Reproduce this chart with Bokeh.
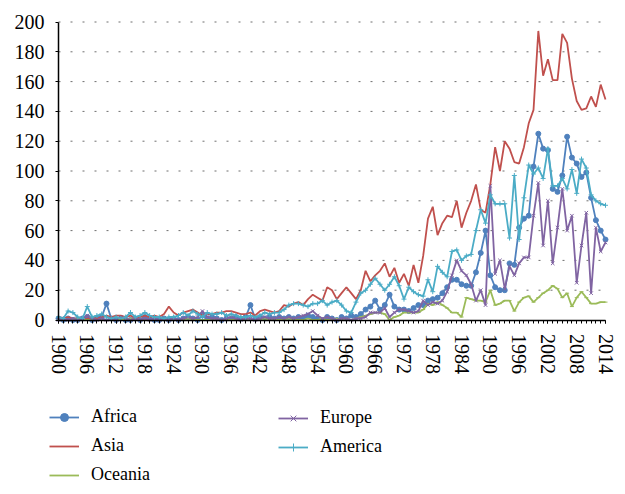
from bokeh.plotting import figure
from bokeh.models import ColumnDataSource, Range1d, FixedTicker, Legend, LegendItem
from bokeh.embed import file_html
from bokeh.resources import INLINE

years = list(range(1900, 2015))

africa = [1, 0, 1, 0, 0, 1, 2, 0, 1, 2,
          11, 1, 0, 1, 0, 0, 1, 0, 2, 1,
          0, 0, 1, 0, 1, 0, 1, 2, 1, 0,
          3, 1, 2, 1, 0, 1, 1, 2, 1, 2,
          10, 1, 2, 1, 2, 1, 2, 1, 2, 1,
          2, 1, 3, 2, 1, 0, 2, 1, 0, 2,
          1, 3, 2, 4, 7, 9, 13, 7, 10, 17,
          9, 7, 7, 6, 8, 10, 10, 13, 14, 15,
          18, 22, 27, 27, 24, 23, 23, 32, 45, 60,
          30, 22, 20, 20, 38, 37, 62, 68, 70, 103,
          125, 115, 114, 88, 86, 97, 123, 109, 105, 96,
          99, 82, 67, 60, 54]

asia = [2, 1, 2, 1, 1, 0, 1, 2, 1, 2,
        3, 2, 3, 3, 2, 3, 1, 2, 3, 2,
        3, 2, 4, 9, 5, 3, 5, 6, 7, 5,
        3, 4, 4, 5, 5, 6, 6, 5, 4, 4,
        5, 3, 6, 7, 6, 5, 6, 10, 9, 11,
        12, 10, 14, 17, 15, 13, 22, 20, 14, 18,
        22, 18, 14, 20, 33, 26, 30, 33, 38, 29,
        35, 25, 31, 23, 37, 25, 43, 68, 76, 57,
        65, 70, 69, 80, 62, 72, 80, 91, 74, 72,
        91, 116, 100, 120, 115, 106, 105, 116, 132, 141,
        194, 164, 175, 161, 161, 192, 186, 162, 147, 141,
        142, 150, 143, 158, 148]

oceania = [0, 0, 0, 0, 1, 0, 0, 0, 0, 0,
           0, 0, 0, 0, 0, 1, 0, 0, 0, 0,
           0, 0, 0, 0, 0, 0, 0, 1, 0, 0,
           0, 0, 0, 1, 0, 0, 0, 0, 0, 1,
           0, 0, 0, 1, 0, 0, 0, 0, 1, 0,
           0, 0, 1, 0, 0, 1, 0, 0, 1, 0,
           1, 0, 1, 2, 3, 4, 5, 5, 4, 0,
           2, 3, 5, 5, 5, 5, 7, 11, 10, 12,
           10, 8, 5, 5, 2, 15, 14, 13, 13, 12,
           20, 10, 11, 13, 13, 6, 12, 15, 16, 12,
           15, 18, 20, 23, 21, 15, 18, 9, 15, 19,
           15, 11, 11, 12, 12]

europe = [0, 1, 0, 1, 0, 1, 3, 1, 0, 1,
          0, 1, 0, 2, 1, 0, 1, 0, 1, 0,
          1, 0, 1, 0, 1, 0, 1, 2, 1, 2,
          6, 2, 1, 1, 0, 1, 2, 1, 0, 1,
          1, 0, 1, 2, 1, 1, 2, 1, 2, 1,
          2, 3, 4, 6, 3, 1, 2, 1, 0, 1,
          1, 0, 1, 1, 2, 5, 5, 5, 8, 2,
          5, 7, 7, 6, 5, 6, 13, 10, 12, 11,
          13, 19, 30, 40, 33, 30, 24, 13, 20, 10,
          90, 31, 40, 21, 36, 30, 38, 42, 42, 70,
          92, 50, 80, 38, 62, 88, 60, 70, 25, 50,
          72, 18, 62, 46, 52]

america = [2, 1, 6, 5, 2, 1, 9, 2, 3, 4,
           2, 1, 2, 1, 2, 5, 2, 3, 5, 3,
           2, 2, 1, 2, 2, 3, 5, 3, 6, 4,
           2, 5, 4, 4, 5, 3, 4, 3, 2, 2,
           3, 2, 3, 5, 4, 5, 5, 7, 10, 11,
           11, 10, 9, 11, 11, 13, 10, 12, 13, 10,
           6, 5, 12, 18, 20, 24, 28, 24, 20, 24,
           29, 23, 14, 22, 19, 17, 16, 27, 19, 36,
           32, 29, 46, 47, 40, 43, 44, 60, 74, 65,
           84, 78, 78, 78, 55, 97, 54, 82, 104, 98,
           102, 95, 115, 90, 90, 95, 88, 101, 85, 108,
           102, 84, 80, 78, 77]

x_tick_labels = [1900, 1906, 1912, 1918, 1924, 1930, 1936, 1942, 1948, 1954,
                 1960, 1966, 1972, 1978, 1984, 1990, 1996, 2002, 2008, 2014]
y_ticks = [0, 20, 40, 60, 80, 100, 120, 140, 160, 180, 200]

src = ColumnDataSource(dict(year=years, africa=africa, asia=asia, oceania=oceania,
                            europe=europe, america=america))

FONT = "Liberation Serif"
W, H = 625, 492

# The frame fills the whole canvas; axes are pinned at year 1900 / value 0,
# leaving room under the chart for the two-column legend.
PX_PER_YEAR = 547 / 114.0
PX_PER_UNIT = 298 / 200.0
x0 = years[0] - 58 / PX_PER_YEAR
x1 = years[0] + (W - 58) / PX_PER_YEAR
y1 = (319.5 - 0) / PX_PER_UNIT
y0 = -(H - 319.5) / PX_PER_UNIT

p = figure(width=W, height=H, output_backend="svg", toolbar_location=None,
           x_range=Range1d(x0, x1), y_range=Range1d(y0, y1),
           min_border_left=0, min_border_right=0, min_border_top=0,
           min_border_bottom=0)
p.outline_line_color = None
p.background_fill_color = "white"
p.border_fill_color = "white"
p.xgrid.visible = False
p.ygrid.visible = False

# dotted horizontal gridlines across the data span
p.multi_line(xs=[[years[0], years[-1] - 1] for _ in y_ticks[1:]],
             ys=[[t, t] for t in y_ticks[1:]],
             line_color="#6f6f6f", line_dash="2 10", line_width=1)

series = [
    ("Africa", "africa", "#4F81BD", "circle", 5),
    ("Asia", "asia", "#C0504D", None, 0),
    ("Oceania", "oceania", "#9BBB59", "dash", 4),
    ("Europe", "europe", "#8064A2", "x", 5),
    ("America", "america", "#4BACC6", "cross", 5),
]
items = {}
for label, col, color, marker, size in series:
    rs = [p.line("year", col, source=src, line_color=color, line_width=1.8)]
    if marker:
        rs.append(p.scatter("year", col, source=src, marker=marker, size=size,
                            line_color=color, fill_color=color, line_width=1))
    items[label] = LegendItem(label=label, renderers=rs)

# axes
xa = p.xaxis[0]
ya = p.yaxis[0]
xa.fixed_location = 0
ya.fixed_location = years[0]
xa.bounds = (years[0], years[-1])
ya.bounds = (y_ticks[0], y_ticks[-1])
xa.ticker = FixedTicker(ticks=x_tick_labels, minor_ticks=years)
ya.ticker = FixedTicker(ticks=y_ticks)
for ax in (xa, ya):
    ax.axis_line_color = "black"
    ax.axis_line_width = 1.5
    ax.major_tick_line_color = "black"
    ax.major_tick_in = 0
    ax.major_tick_out = 3
    ax.major_label_text_font = FONT
    ax.major_label_text_font_size = "20px"
    ax.major_label_text_color = "black"
xa.minor_tick_line_color = "black"
xa.minor_tick_in = 0
xa.minor_tick_out = 3
ya.minor_tick_line_color = None
xa.major_label_orientation = "vertical"
xa.major_label_standoff = 11
ya.major_label_standoff = 11


def make_legend(labels, top):
    n = len(labels)
    h = n * 20 + (n - 1) * 8
    return Legend(items=[items[l] for l in labels], location=(0, H - top - h),
                  orientation="vertical", glyph_width=30, glyph_height=20,
                  label_height=20, label_standoff=12, spacing=8, padding=0,
                  margin=0, border_line_color=None, background_fill_alpha=0,
                  label_text_font=FONT, label_text_font_size="18px",
                  label_text_color="black", label_text_baseline="middle")


lg1 = make_legend(["Africa", "Asia", "Oceania"], 409)
lg1.location = (49, lg1.location[1])
lg2 = make_legend(["Europe", "America"], 409)
lg2.location = (278, lg2.location[1])
p.add_layout(lg1)
p.add_layout(lg2)

open("out.html", "w").write(file_html(p, INLINE))
